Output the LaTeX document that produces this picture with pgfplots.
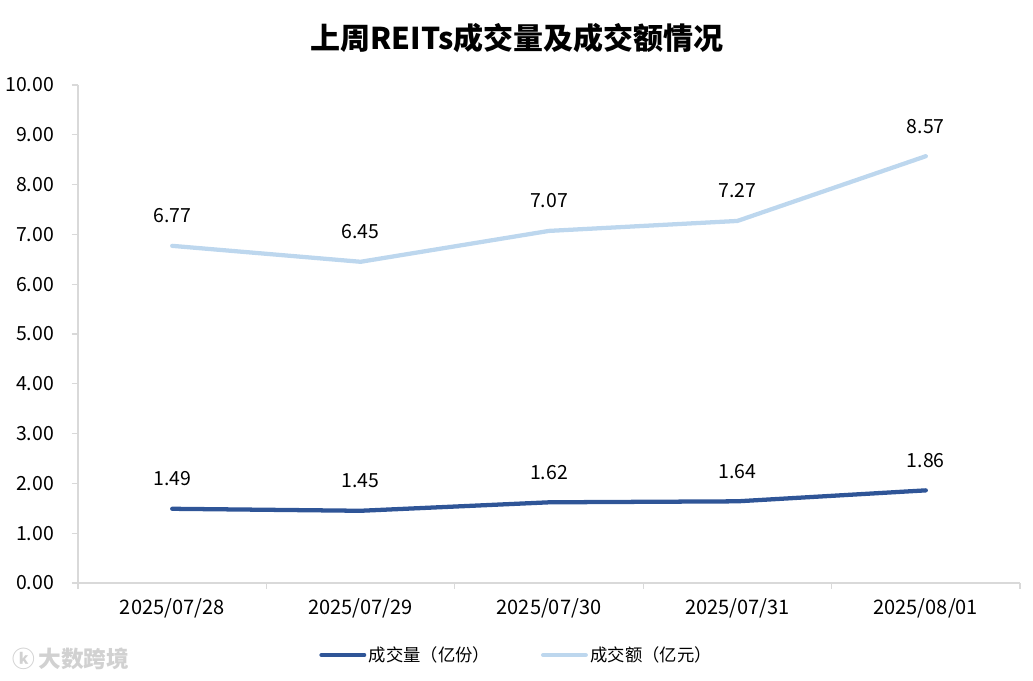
\documentclass[border=0pt]{standalone}
\usepackage{pgfplots}
\pgfplotsset{compat=1.18}
\usepackage{fontspec}
\setmainfont{Noto Sans CJK SC}
\definecolor{darkb}{HTML}{2F5597}
\definecolor{lightb}{HTML}{BDD7EE}
\definecolor{axgray}{HTML}{D9D9D9}
\begin{document}
\begin{tikzpicture}
\begin{axis}[
  scale only axis,
  width=706.5pt, height=373.5pt,
  xmin=-0.5, xmax=4.5, ymin=0, ymax=10,
  axis x line*=bottom, axis y line*=left,
  axis line style={axgray, line width=0.9pt, -},
  xtick={0,1,2,3,4},
  xticklabels={2025/07/28,2025/07/29,2025/07/30,2025/07/31,2025/08/01},
  minor xtick={-0.5,0.5,1.5,2.5,3.5,4.5},
  ytick={0,1,...,10},
  tick align=outside,
  major tick length=4.5pt,
  minor tick length=4.5pt,
  x tick style={draw=none},
  minor x tick style={draw=axgray, line width=0.9pt},
  y tick style={draw=axgray, line width=0.9pt},
  xticklabel style={font=\fontsize{15}{17}\selectfont, yshift=-4pt},
  yticklabel style={font=\fontsize{14.6}{16}\selectfont, xshift=-10pt},
  /pgf/number format/assume math mode=true,
  yticklabel={\pgfmathprintnumber[fixed,fixed zerofill,precision=2]{\tick}},
  nodes near coords,
  nodes near coords style={font=\fontsize{14.6}{16}\selectfont, anchor=center, yshift=22.5pt, black,
    /pgf/number format/.cd, fixed, fixed zerofill, precision=2, assume math mode=true},
  legend columns=2,
  legend style={at={(0.466,-0.1446)}, anchor=center, draw=none, fill=none,
    font=\fontsize{13}{15}\selectfont, /tikz/every even column/.append style={column sep=36pt}},
  legend image code/.code={\draw[#1, line cap=round] (0pt,0pt) -- (32pt,0pt);},
  clip=false,
]
\addplot[darkb, line width=3.2pt, line cap=round, mark=none] coordinates {(0,1.49) (1,1.45) (2,1.62) (3,1.64) (4,1.86)};
\addlegendentry{成交量（亿份）}
\addplot[lightb, line width=3.2pt, line cap=round, mark=none] coordinates {(0,6.77) (1,6.45) (2,7.07) (3,7.27) (4,8.57)};
\addlegendentry{成交额（亿元）}
\end{axis}
\node[font=\fontsize{22.5}{26}\selectfont\bfseries] at (329.25pt,408.75pt) {上周REITs成交量及成交额情况};
\node[font=\fontsize{17}{19}\selectfont\bfseries, text=black!18, anchor=west] at (-53pt,-57pt) {ⓚ\,大数跨境};
\pgfresetboundingbox
\path[use as bounding box] (-58.5pt,-73.5pt) rectangle (716.25pt,437.25pt);
\end{tikzpicture}
\end{document}
